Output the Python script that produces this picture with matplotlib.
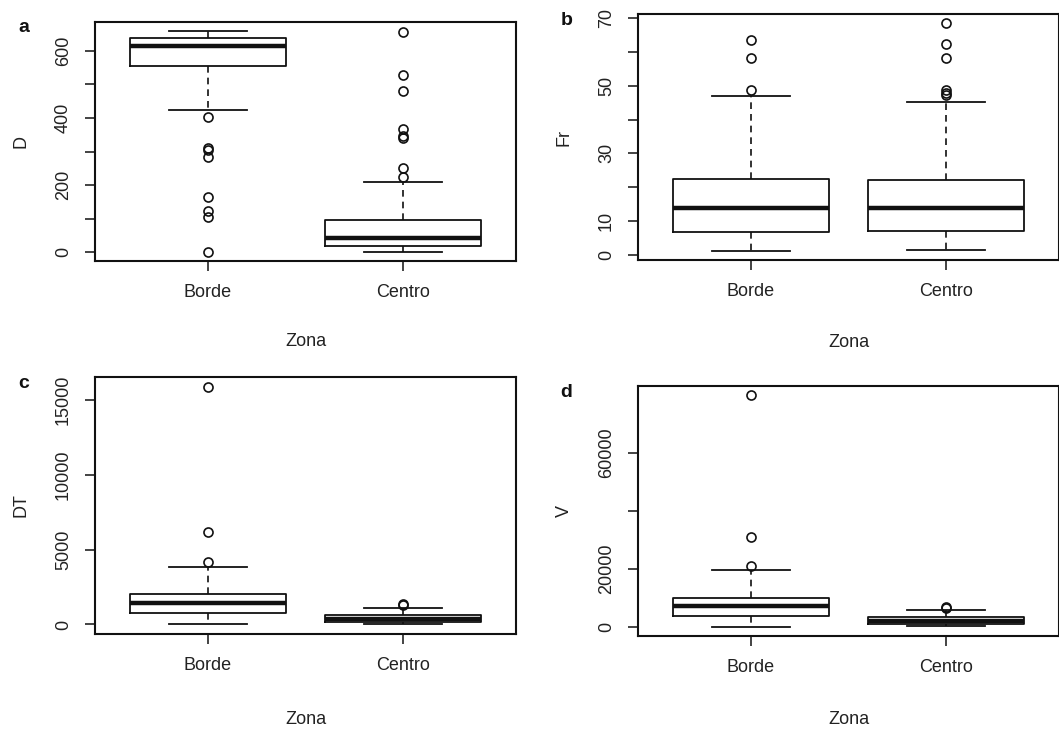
import numpy as np
import matplotlib.pyplot as plt

plt.rcParams['font.family'] = ['Liberation Sans', 'DejaVu Sans']

########################## Data #########################

zonas = ["Borde", "Centro"]

# summaries per zone: [lower whisker, q1, median, q3, upper whisker]
D_borde = [425, 554, 616, 640, 660]
D_centro = [1, 19, 43, 96, 210]
D_borde_out = [402, 312, 305, 283, 165, 123, 105, 0]
D_centro_out = [656, 527, 481, 366, 346, 341, 252, 225]
D_ticks = [0, 100, 200, 300, 400, 500, 600]
D_ticklabels = ["0", "", "200", "", "400", "", "600"]

Fr_borde = [1.2, 6.9, 13.8, 22.5, 46.9]
Fr_centro = [1.4, 7.0, 13.9, 22.2, 45.1]
Fr_borde_out = [63.4, 58.2, 48.8]
Fr_centro_out = [68.5, 62.4, 58.3, 48.6, 47.8, 47.3]
Fr_ticks = [0, 10, 20, 30, 40, 50, 60, 70]
Fr_ticklabels = ["0", "10", "", "30", "", "50", "", "70"]

DT_borde = [0, 741, 1435, 2022, 3861]
DT_centro = [30, 155, 337, 606, 1098]
DT_borde_out = [15900, 6173, 4198]
DT_centro_out = [1388, 1300]
DT_ticks = [0, 5000, 10000, 15000]
DT_ticklabels = ["0", "5000", "10000", "15000"]

V_borde = [0, 3810, 7150, 10060, 19420]
V_centro = [200, 900, 1840, 3220, 5900]
V_borde_out = [79870, 30970, 21020]
V_centro_out = [6800, 6500]
V_ticks = [0, 20000, 40000, 60000]
V_ticklabels = ["0", "20000", "", "60000"]

######################## Plotting #######################

W, H = 1059, 730
fig = plt.figure(figsize=(W / 100, H / 100), dpi=100)
ink = '#111111'


def px_axes(left, top, right, bottom):
    return fig.add_axes([left / W, 1 - bottom / H, (right - left) / W, (bottom - top) / H])


def stats(s, out):
    return dict(whislo=s[0], q1=s[1], med=s[2], q3=s[3], whishi=s[4], fliers=out)


def boxpanel(ax, borde, centro, out_b, out_c, ticks, ticklabels, ylabel, letter):
    ax.bxp([stats(borde, out_b), stats(centro, out_c)], positions=[1, 2],
           widths=0.8, capwidths=0.4,
           boxprops=dict(color=ink, lw=1.3),
           whiskerprops=dict(color=ink, lw=1.2, ls=(0, (4, 3))),
           capprops=dict(color=ink, lw=1.3),
           medianprops=dict(color=ink, lw=3.2, solid_capstyle='butt'),
           flierprops=dict(marker='o', mfc='none', mec=ink, ms=6.5, mew=1.2))
    allv = borde + centro + out_b + out_c
    lo, hi = min(allv), max(allv)
    ext = 0.04 * (hi - lo)
    ax.set_ylim(lo - ext, hi + ext)
    ax.set_xlim(0.42, 2.58)
    ax.set_xticks([1, 2])
    ax.set_xticklabels(zonas)
    ax.set_yticks(ticks)
    ax.set_yticklabels(ticklabels)
    for t in ax.get_yticklabels():
        t.set_rotation(90)
        t.set_va('center')
        t.set_ha('right')
    ax.tick_params(length=7.5, width=1.1, color=ink, labelsize=13, labelcolor='#222222', pad=9)
    for sp in ax.spines.values():
        sp.set_linewidth(1.5)
        sp.set_color(ink)
    ax.set_xlabel("Zona", fontsize=13, color='#222222')
    ax.xaxis.set_label_coords(0.5, -0.30)
    ax.set_ylabel(ylabel, fontsize=13, color='#222222')
    ax.yaxis.set_label_coords(-0.155, 0.5)
    ax.text(-0.17, 0.975, letter, transform=ax.transAxes, fontsize=14,
            fontweight='bold', ha='center', va='center', color='#111111')


ax_a = px_axes(95, 22, 516, 261)
boxpanel(ax_a, D_borde, D_centro, D_borde_out, D_centro_out,
         D_ticks, D_ticklabels, "D", "a")

ax_b = px_axes(638, 14, 1059, 260)
boxpanel(ax_b, Fr_borde, Fr_centro, Fr_borde_out, Fr_centro_out,
         Fr_ticks, Fr_ticklabels, "Fr", "b")

ax_c = px_axes(95, 377, 516, 634)
boxpanel(ax_c, DT_borde, DT_centro, DT_borde_out, DT_centro_out,
         DT_ticks, DT_ticklabels, "DT", "c")

ax_d = px_axes(638, 386, 1059, 636)
boxpanel(ax_d, V_borde, V_centro, V_borde_out, V_centro_out,
         V_ticks, V_ticklabels, "V", "d")

fig.savefig('out.png', dpi=100)
